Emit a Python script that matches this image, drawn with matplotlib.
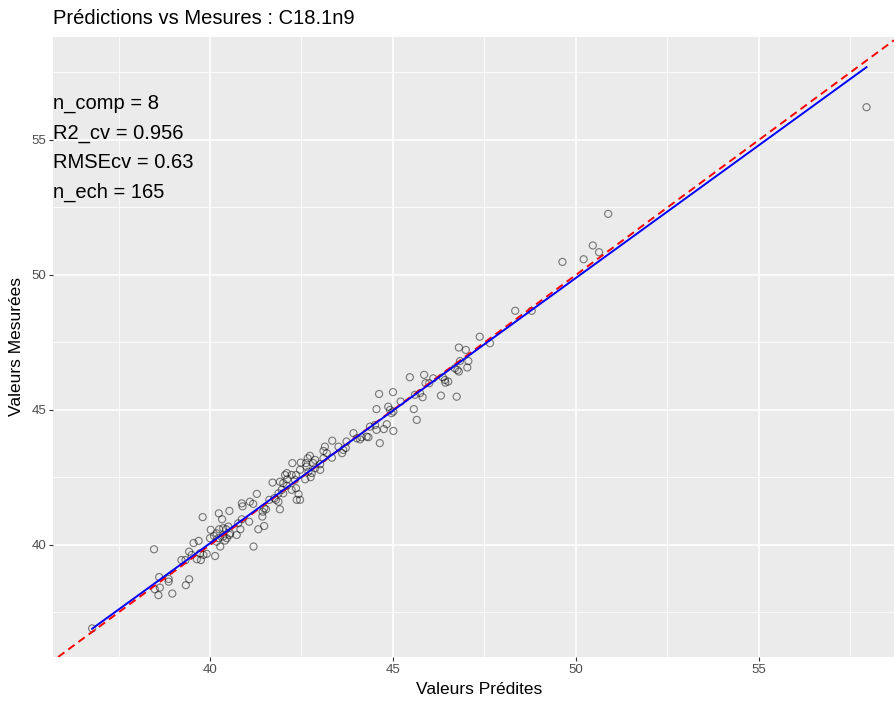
import matplotlib
matplotlib.use("Agg")
import matplotlib.pyplot as plt
import numpy as np
from matplotlib.ticker import MultipleLocator

plt.rcParams["font.family"] = ["Liberation Sans", "DejaVu Sans"]

pred = [
    36.78, 38.47, 38.61, 38.49, 38.63, 38.59, 38.87, 38.87, 38.97, 39.43,
    39.34, 39.22, 39.33, 39.43, 39.55, 39.69, 39.64, 39.75, 39.82, 39.91,
    40.14, 39.80, 40.02, 40.00, 40.11, 40.24, 40.33, 40.53, 40.25, 40.36,
    40.44, 40.50, 40.23, 40.41, 40.28, 40.53, 40.73, 40.83, 40.87, 40.89,
    40.87, 41.07, 41.09, 41.18, 41.28, 41.19, 41.32, 40.18, 40.36, 41.48,
    41.44, 41.48, 41.53, 41.62, 41.71, 41.76, 41.80, 41.87, 41.91, 41.91,
    41.96, 42.00, 42.05, 42.10, 42.11, 42.23, 42.35, 42.35, 42.37, 42.42,
    42.25, 42.48, 42.62, 42.67, 42.73, 42.64, 42.69, 42.78, 42.75, 42.60,
    42.87, 43.01, 43.10, 43.14, 43.19, 43.33, 43.34, 43.51, 43.61, 43.64,
    43.71, 43.92, 43.73, 44.01, 42.23, 42.46, 42.82, 42.32, 44.10, 44.14,
    44.33, 44.37, 44.64, 44.55, 44.75, 45.01, 44.83, 44.62, 45.00, 44.55,
    44.87, 44.92, 45.01, 44.96, 45.21, 45.57, 45.65, 45.60, 45.74, 45.81,
    45.46, 45.85, 45.89, 46.10, 46.36, 46.42, 46.51, 46.31, 46.74, 45.99,
    46.43, 48.34, 48.79, 47.37, 47.65, 46.80, 46.99, 47.06, 46.83, 46.76,
    46.80, 46.69, 47.03, 50.88, 50.46, 50.63, 50.21, 49.63, 57.94,
    40.77, 41.43, 40.55, 40.46, 40.18, 39.50, 39.73, 43.10, 42.87, 43.01,
    41.87, 42.00, 42.10, 44.51, 42.46, 44.28,
]
meas = [
    36.91, 39.84, 38.81, 38.36, 38.42, 38.14, 38.74, 38.64, 38.20, 38.73,
    38.51, 39.44, 39.44, 39.75, 40.07, 40.15, 39.47, 39.44, 39.63, 39.67,
    39.59, 41.03, 40.56, 40.25, 40.33, 41.17, 40.95, 41.26, 40.58, 40.62,
    40.58, 40.68, 40.25, 40.16, 39.94, 40.37, 40.37, 40.58, 41.54, 41.43,
    40.95, 40.86, 41.60, 41.52, 41.89, 39.94, 40.58, 40.43, 40.31, 40.70,
    41.23, 41.36, 41.32, 41.67, 42.31, 41.73, 41.67, 41.60, 41.32, 42.34,
    42.04, 42.29, 42.59, 42.66, 42.43, 42.04, 42.59, 42.10, 41.67, 41.88,
    43.03, 43.05, 43.03, 43.21, 43.30, 42.90, 42.71, 42.66, 42.51, 42.43,
    43.15, 42.99, 43.48, 43.64, 43.40, 43.23, 43.86, 43.64, 43.40, 43.52,
    43.59, 44.14, 43.83, 43.95, 42.59, 42.78, 43.03, 42.41, 43.91, 43.99,
    43.99, 44.38, 43.77, 44.26, 44.29, 44.22, 44.47, 45.59, 45.66, 45.03,
    45.12, 45.00, 44.94, 44.88, 45.31, 45.03, 44.63, 45.56, 45.62, 45.47,
    46.21, 46.30, 45.99, 46.17, 46.21, 46.11, 46.05, 45.53, 45.49, 45.99,
    46.01, 48.67, 48.67, 47.71, 47.47, 47.31, 47.22, 46.81, 46.81, 46.48,
    46.42, 46.54, 46.57, 52.26, 51.09, 50.84, 50.58, 50.48, 56.21,
    40.80, 41.05, 40.43, 40.25, 40.12, 39.63, 39.69, 43.21, 42.84, 42.78,
    41.91, 41.91, 42.19, 44.44, 41.67, 44.01,
]
stats = ["n_comp = 8", "R2_cv = 0.956", "RMSEcv = 0.63", "n_ech = 165"]
title = "Prédictions vs Mesures : C18.1n9"

x = np.array(pred)
y = np.array(meas)

fig = plt.figure(figsize=(8.94, 7.01), dpi=100)
ax = fig.add_axes([53 / 894, 44 / 701, 841 / 894, 620 / 701])
ax.set_facecolor("#EBEBEB")
for s in ax.spines.values():
    s.set_visible(False)

ax.set_xlim(35.71, 58.69)
ax.set_ylim(35.85, 58.81)
ax.xaxis.set_major_locator(MultipleLocator(5))
ax.yaxis.set_major_locator(MultipleLocator(5))
ax.xaxis.set_minor_locator(MultipleLocator(2.5))
ax.yaxis.set_minor_locator(MultipleLocator(2.5))
ax.grid(True, which="major", color="white", linewidth=1.1)
ax.grid(True, which="minor", color="white", linewidth=0.55)
ax.set_axisbelow(True)
ax.tick_params(which="minor", length=0)
ax.tick_params(which="major", length=3, width=0.8, color="#333333",
               labelcolor="#4D4D4D", labelsize=9.5, pad=2)

# y = x reference and linear fit
ax.axline((40, 40), slope=1, color="red", linestyle=(0, (4, 2.5)), linewidth=1.4, zorder=3)
b, a = np.polyfit(x, y, 1)
xs = np.array([x.min(), x.max()])
ax.plot(xs, a + b * xs, color="blue", linewidth=1.4, zorder=4)

ax.scatter(x, y, s=26, facecolors="none", edgecolors=(0, 0, 0, 0.5), linewidths=0.8, zorder=2)

ax.text(0.0, 0.821, "\n".join(stats), transform=ax.transAxes, ha="left", va="center",
        fontsize=14.5, linespacing=1.72, color="black")

ax.set_xlabel("Valeurs Prédites", fontsize=12.5)
ax.set_ylabel("Valeurs Mesurées", fontsize=12.5)
ax.xaxis.set_label_coords((479 - 53) / 841, -0.041)
ax.yaxis.set_label_coords(-0.035, 0.5)
fig.text(53 / 894, 1 - 19 / 701, title, ha="left", va="center", fontsize=14.5)

fig.savefig("out.png", dpi=100)
